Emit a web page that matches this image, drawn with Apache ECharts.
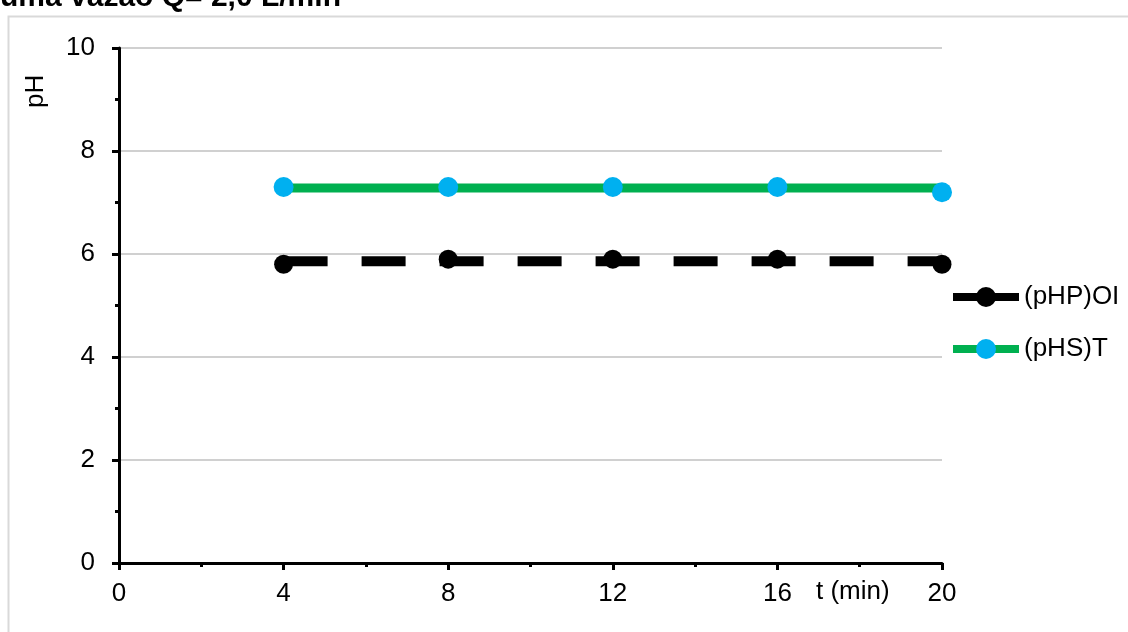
<!DOCTYPE html>
<html>
<head>
<meta charset="utf-8">
<script src="https://cdn.jsdelivr.net/npm/echarts@6/dist/echarts.min.js"></script>
<style>html,body{margin:0;padding:0;background:#fff;}#c{width:1128px;height:632px;}</style>
</head>
<body>
<div id="c"></div>
<script>
const titleText = 'uma vazão Q= 2,0 L/min';
const xName = 't (min)';
const yName = 'pH';
const tMin = [4, 8, 12, 16, 20];
const pHP_OI = [5.8, 5.9, 5.9, 5.9, 5.8];
const pHS_T = [7.3, 7.3, 7.3, 7.3, 7.2];
const names = ['(pHP)OI', '(pHS)T'];

const mean = a => a.reduce((s, v) => s + v, 0) / a.length;
const pts = a => a.map((v, i) => [tMin[i], v]);
const meanLine = a => [[tMin[0], mean(a)], [tMin[tMin.length - 1], mean(a)]];

const font = 'Liberation Sans, Arial, sans-serif';
const chart = echarts.init(document.getElementById('c'), null, {renderer: 'canvas'});
chart.setOption({
  animation: false,
  textStyle: {fontFamily: font},
  grid: {left: 119, right: 186, top: 48, bottom: 69, containLabel: false},
  xAxis: {
    type: 'value', min: 0, max: 20, interval: 4,
    axisLine: {show: true, onZero: false, lineStyle: {color: '#000', width: 3}},
    axisTick: {show: true, length: 7, lineStyle: {color: '#000', width: 3}},
    minorTick: {show: true, splitNumber: 2, length: 4, lineStyle: {color: '#000', width: 3}},
    axisLabel: {color: '#000', fontSize: 26, margin: 18, fontFamily: font},
    splitLine: {show: false}
  },
  yAxis: {
    type: 'value', min: 0, max: 10, interval: 2,
    axisLine: {show: true, lineStyle: {color: '#000', width: 3}},
    axisTick: {show: true, length: 7, lineStyle: {color: '#000', width: 3}},
    minorTick: {show: true, splitNumber: 2, length: 4, lineStyle: {color: '#000', width: 3}},
    axisLabel: {color: '#000', fontSize: 26, margin: 24, fontFamily: font},
    splitLine: {show: true, lineStyle: {color: '#c0c0c0', width: 1.5}}
  },
  legend: {
    orient: 'vertical', left: 944, top: 279, itemWidth: 66, itemHeight: 25, itemGap: 26,
    textStyle: {color: '#000', fontSize: 26, fontFamily: font},
    data: [
      {name: names[0], itemStyle: {color: '#000'}, lineStyle: {color: '#000', width: 8, type: 'solid', opacity: 1}},
      {name: names[1], itemStyle: {color: '#00B0F0'}, lineStyle: {color: '#00B050', width: 8, type: 'solid', opacity: 1}}
    ]
  },
  graphic: [
    {type: 'rect', left: 6, top: 14, shape: {width: 1140, height: 640}, style: {fill: 'none', stroke: '#d9d9d9', lineWidth: 2}, z: -10},
    {type: 'text', left: 0, top: -17, style: {text: titleText, font: 'bold 30px ' + font, fill: '#000'}},
    {type: 'text', left: 816, top: 579, style: {text: xName, font: '26px ' + font, fill: '#000'}},
    {type: 'text', x: 23, y: 108, rotation: Math.PI / 2, style: {text: yName, font: '26px ' + font, fill: '#000'}}
  ],
  series: [
    {name: 'mean1', type: 'line', data: meanLine(pHP_OI), symbol: 'none', lineStyle: {color: '#000', width: 10, type: [44, 34]}, z: 2, silent: true},
    {name: 'mean2', type: 'line', data: meanLine(pHS_T), symbol: 'none', lineStyle: {color: '#00B050', width: 9}, z: 2, silent: true},
    {name: names[0], type: 'line', data: pts(pHP_OI), symbol: 'circle', symbolSize: 19, itemStyle: {color: '#000'}, lineStyle: {opacity: 0, color: '#000'}, z: 3},
    {name: names[1], type: 'line', data: pts(pHS_T), symbol: 'circle', symbolSize: 20, itemStyle: {color: '#00B0F0'}, lineStyle: {opacity: 0, color: '#00B050'}, z: 3}
  ]
});
</script>
</body>
</html>
